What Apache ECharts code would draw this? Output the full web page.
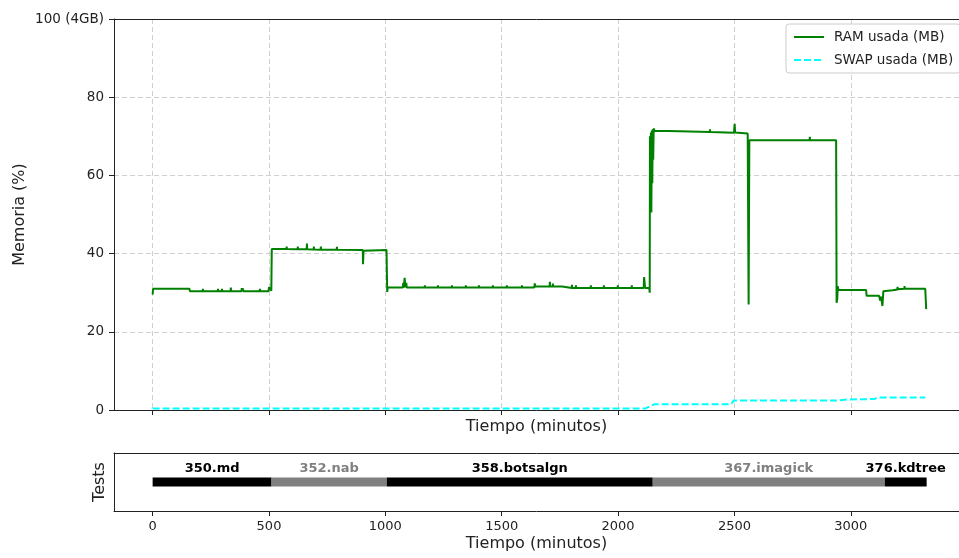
<!DOCTYPE html>
<html>
<head>
<meta charset="utf-8">
<script src="https://cdn.jsdelivr.net/npm/echarts@6/dist/echarts.min.js"></script>
<style>
html,body{margin:0;padding:0;background:#fff;}
#c{width:959px;height:558px;}
</style>
</head>
<body>
<div id="c"></div>
<script>
// ---- data ----
var xTickValues = [0, 500, 1000, 1500, 2000, 2500, 3000];
var yTickValues = [0, 20, 40, 60, 80, 100];
var yTickLabels = ['0', '20', '40', '60', '80', '100 (4GB)'];

// RAM usage (%) over time (minutes)
var ramTime = [0,2,43,44,45,103,104,105,158,160,215,216,217,280,281,282,297,298,299,335,336,337,382,383,384,387,388,389,460,461,462,498,500,508,510,512,
  575,576,577,623,624,625,662,663,664,692,693,694,722,723,724,791,792,793,903,904,906,1005,1008,1010,
  1075,1077,1079,1083,1086,1090,1092,1169,1170,1171,1225,1226,1227,1285,1286,1287,1345,1346,1347,1401,1402,1403,1461,1462,1463,1521,1522,1523,1586,1587,1588,
  1640,1642,1644,1706,1707,1708,1719,1720,1721,1760,1762,1801,1802,1803,1818,1819,1820,1882,1883,1884,1938,1939,1940,1998,1999,2000,2058,2059,2060,
  2110,2112,2116,2134,2136,2137,2139,2141,2143,2145,2147,2149,2151,2153,2157,
  2265,2266,2267,2394,2395,2396,2498,2501,2503,2506,2557,2559,2561,2564,
  2596,2597,2598,2651,2652,2653,2707,2708,2709,2768,2769,2770,2823,2824,2825,2884,2885,2886,2937,2939,2942,2944,2947,3066,3068,3122,3126,3130,3136,3140,
  3180,3200,3201,3202,3230,3231,3232,3255,3256,3257,3280,3281,3282,3320,3324];
var ramValue = [29.5,31.0,31.0,31.5,31.0,31.0,31.5,31.0,31.0,30.4,30.4,31.0,30.4,30.4,31.0,30.4,30.4,31.0,30.4,30.4,31.3,30.4,30.4,31.2,30.4,30.4,31.1,30.4,30.4,31.0,30.4,30.4,31.4,31.4,30.5,41.2,
  41.15,41.8,41.15,41.1,41.8,41.1,41.1,42.6,41.1,41.05,41.8,41.05,41.0,41.8,41.0,41.0,41.7,41.0,40.9,37.3,40.7,40.9,30.2,31.3,
  31.3,32.5,31.3,33.8,31.4,32.5,31.3,31.3,31.9,31.3,31.3,31.9,31.3,31.3,31.9,31.3,31.3,31.9,31.3,31.3,31.9,31.3,31.3,31.9,31.3,31.3,31.9,31.3,31.3,31.9,31.3,
  31.3,32.4,31.6,31.6,32.8,31.6,31.6,32.3,31.6,31.6,31.2,31.2,32.0,31.2,31.2,31.9,31.2,31.2,31.9,31.2,31.2,31.9,31.2,31.2,31.9,31.2,31.2,31.9,31.2,
  31.2,34.0,31.2,31.2,30.0,70.0,52.0,71.0,50.5,71.5,58.0,71.8,64.0,72.0,71.4,
  71.3,71.8,71.3,71.1,71.8,71.1,70.9,73.2,71.0,70.7,70.7,70.7,27.0,69.0,
  69.0,69.5,69.0,69.0,69.5,69.0,69.0,69.5,69.0,69.0,69.5,69.0,69.0,69.9,69.0,69.0,69.5,69.0,69.0,27.4,28.5,31.7,30.7,30.7,29.2,29.2,28.0,29.0,26.6,30.4,
  30.6,30.8,31.5,30.9,31.0,31.7,31.0,31.0,31.5,31.0,31.0,31.4,31.0,31.0,25.8];

// SWAP usage (%) over time (minutes)
var swapTime = [0, 2118, 2157, 2485, 2497, 2940, 2990, 3100, 3120, 3320];
var swapValue = [0.4, 0.4, 1.5, 1.5, 2.4, 2.4, 2.7, 2.8, 3.2, 3.2];

// Tests timeline
var testNames = ['350.md', '352.nab', '358.botsalgn', '367.imagick', '376.kdtree'];
var testStart = [0, 511, 1006, 2149, 3146];
var testEnd = [511, 1006, 2149, 3146, 3326];
var testColors = ['#000000', '#808080', '#000000', '#808080', '#000000'];

// ---- chart ----
var FONT = 'DejaVu Sans';
var xMin = -166, xMax = 3465;
var AX = '#222';

function pairs(t, v) { return t.map(function (x, i) { return [x, v[i]]; }); }

var barSeries = testNames.map(function (name, i) {
  return {
    name: name,
    type: 'bar',
    xAxisIndex: 1,
    yAxisIndex: 1,
    stack: 'tests',
    barWidth: 9,
    itemStyle: { color: testColors[i] },
    label: {
      show: true, position: 'top', distance: 2,
      formatter: '{a}',
      color: testColors[i], fontFamily: FONT, fontWeight: 'bold', fontSize: 13
    },
    data: [testEnd[i] - testStart[i]]
  };
});

function frameTop(gi) {
  return {
    type: 'value', gridIndex: gi, min: xMin, max: xMax, position: 'top',
    axisLine: { show: true, onZero: false, lineStyle: { color: AX, width: 1 } },
    axisTick: { show: false }, axisLabel: { show: false }, splitLine: { show: false }
  };
}

var chart = echarts.init(document.getElementById('c'), null, { renderer: 'canvas' });
chart.setOption({
  animation: false,
  backgroundColor: '#ffffff',
  textStyle: { fontFamily: FONT },
  grid: [
    { left: 114, top: 19, height: 391, right: 0 },
    { left: 114, top: 453, height: 58, right: 0 }
  ],
  legend: {
    data: ['RAM usada (MB)', 'SWAP usada (MB)'],
    orient: 'vertical',
    left: 786, top: 24,
    padding: [6, 7, 6, 7],
    itemGap: 9,
    itemWidth: 30, itemHeight: 13,
    borderColor: '#cccccc', borderWidth: 1, borderRadius: 3,
    backgroundColor: 'rgba(255,255,255,0.8)',
    selectedMode: false,
    itemStyle: { opacity: 0 },
    textStyle: { fontFamily: FONT, fontSize: 13.5, color: '#222', padding: [0, 0, 0, 5] }
  },
  xAxis: [
    {
      type: 'value', gridIndex: 0, min: xMin, max: xMax,
      name: 'Tiempo (minutos)', nameLocation: 'middle', nameGap: 9, nameMoveOverlap: false,
      nameTextStyle: { fontFamily: FONT, fontSize: 16, color: '#222' },
      axisLine: { show: true, onZero: false, lineStyle: { color: AX, width: 1 } },
      axisTick: { show: true, inside: false, length: 5, lineStyle: { color: AX }, customValues: xTickValues },
      axisLabel: { show: false, customValues: xTickValues },
      splitLine: { show: true, lineStyle: { color: '#d0d0d0', type: [5, 3], width: 1 } }
    },
    {
      type: 'value', gridIndex: 1, min: xMin, max: xMax,
      name: 'Tiempo (minutos)', nameLocation: 'middle', nameGap: 25, nameMoveOverlap: false,
      nameTextStyle: { fontFamily: FONT, fontSize: 16, color: '#222' },
      axisLine: { show: true, onZero: false, lineStyle: { color: AX, width: 1 } },
      axisTick: { show: true, inside: false, length: 5, lineStyle: { color: AX }, customValues: xTickValues },
      axisLabel: {
        show: true, margin: 9, fontFamily: FONT, fontSize: 13, color: '#222', customValues: xTickValues,
        formatter: function (v) { return String(v); }
      },
      splitLine: { show: false }
    },
    frameTop(0),
    frameTop(1)
  ],
  yAxis: [
    {
      type: 'value', gridIndex: 0, min: 0, max: 100, interval: 20,
      name: 'Memoria (%)', nameLocation: 'middle', nameGap: 86, nameMoveOverlap: false,
      nameTextStyle: { fontFamily: FONT, fontSize: 16, color: '#222' },
      axisLine: { show: true, onZero: false, lineStyle: { color: AX, width: 1 } },
      axisTick: { show: true, inside: false, length: 5, lineStyle: { color: AX } },
      axisLabel: {
        show: true, margin: 10, fontFamily: FONT, fontSize: 13.5, color: '#222',
        formatter: function (v) { var i = yTickValues.indexOf(v); return i >= 0 ? yTickLabels[i] : ''; }
      },
      splitLine: { show: true, lineStyle: { color: '#d0d0d0', type: [5, 3], width: 1 } }
    },
    {
      type: 'category', gridIndex: 1, data: [''],
      name: 'Tests', nameLocation: 'middle', nameGap: 6, nameMoveOverlap: false,
      nameTextStyle: { fontFamily: FONT, fontSize: 16, color: '#222' },
      axisLine: { show: true, onZero: false, lineStyle: { color: AX } },
      axisTick: { show: false },
      axisLabel: { show: false },
      splitLine: { show: false }
    }
  ],
  series: [
    {
      name: 'RAM usada (MB)', type: 'line', xAxisIndex: 0, yAxisIndex: 0,
      data: pairs(ramTime, ramValue),
      symbol: 'none', showSymbol: false,
      lineStyle: { color: '#008000', width: 2 },
      itemStyle: { color: '#008000' },
      z: 3
    },
    {
      name: 'SWAP usada (MB)', type: 'line', xAxisIndex: 0, yAxisIndex: 0,
      data: pairs(swapTime, swapValue),
      symbol: 'none', showSymbol: false,
      lineStyle: { color: '#00ffff', width: 2, type: [7, 3] },
      itemStyle: { color: '#00ffff' },
      z: 2
    }
  ].concat(barSeries)
});
</script>
</body>
</html>
